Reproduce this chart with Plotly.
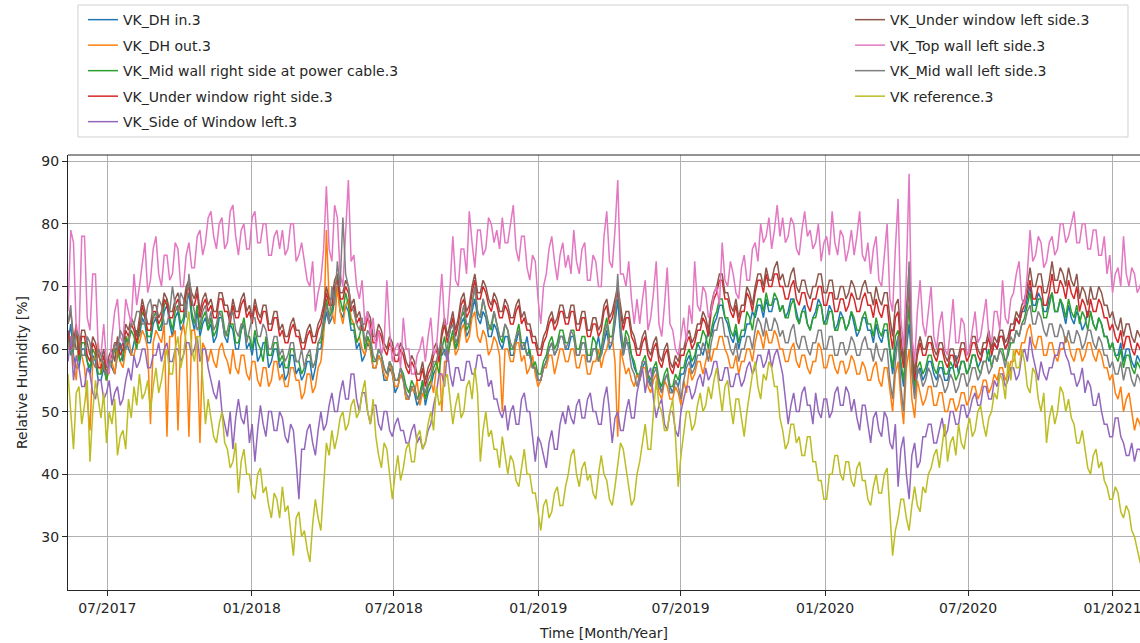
import pandas as pd
import plotly.graph_objects as go

FONT = "DejaVu Sans, sans-serif"

# readings every 3.5 days, first sample 2017-05-12
START = "2017-05-12"
STEP = "84h"

dh_in = [
    61, 64, 59, 57, 57, 60, 60, 58, 56, 59, 58, 55, 55, 57, 55, 58, 57, 56, 59, 61, 58, 62, 60, 59, 61, 63,
    62, 65, 64, 61, 61, 64, 65, 63, 63, 66, 67, 64, 62, 65, 66, 63, 64, 67, 69, 65, 63, 66, 62, 64, 65, 63,
    64, 61, 62, 65, 65, 62, 61, 64, 63, 60, 60, 63, 64, 60, 61, 59, 62, 58, 59, 61, 61, 57, 58, 60, 60, 57,
    58, 55, 56, 59, 59, 56, 57, 55, 56, 58, 58, 55, 57, 60, 60, 63, 66, 64, 65, 68, 70, 66, 65, 67, 66, 63,
    63, 60, 61, 58, 59, 61, 60, 57, 57, 59, 58, 55, 55, 57, 56, 53, 54, 56, 55, 52, 52, 54, 53, 51, 52, 55,
    51, 53, 54, 56, 57, 59, 59, 60, 58, 61, 62, 60, 61, 64, 65, 62, 63, 66, 68, 65, 64, 66, 65, 62, 62, 64,
    63, 61, 60, 62, 62, 59, 59, 61, 63, 60, 60, 62, 59, 57, 57, 55, 55, 57, 58, 60, 61, 59, 60, 62, 62, 60,
    60, 62, 62, 59, 59, 61, 61, 58, 58, 60, 60, 62, 59, 61, 63, 60, 61, 64, 68, 62, 59, 61, 61, 59, 57, 56,
    55, 57, 58, 56, 54, 57, 57, 55, 53, 55, 56, 54, 53, 55, 54, 56, 56, 58, 59, 57, 58, 61, 60, 59, 61, 63,
    62, 64, 65, 67, 67, 65, 64, 62, 61, 63, 60, 62, 62, 64, 64, 66, 65, 67, 67, 65, 68, 66, 66, 68, 68, 66,
    67, 65, 66, 68, 68, 66, 64, 66, 67, 64, 63, 65, 66, 68, 67, 64, 65, 67, 66, 63, 64, 66, 65, 63, 64, 66,
    64, 62, 63, 65, 65, 63, 63, 61, 64, 62, 61, 63, 63, 59, 56, 60, 62, 57, 54, 60, 64, 58, 53, 56, 57, 55,
    56, 58, 58, 56, 55, 57, 57, 55, 55, 57, 57, 59, 56, 58, 58, 56, 57, 59, 59, 57, 58, 60, 60, 58, 59, 61,
    60, 62, 62, 60, 61, 63, 63, 65, 64, 66, 66, 68, 70, 67, 67, 69, 68, 66, 66, 68, 69, 66, 66, 68, 66, 64,
    67, 65, 64, 66, 65, 63, 64, 66, 66, 64, 63, 65, 64, 62, 62, 60, 61, 59, 59, 61, 58, 60, 60, 58, 57, 59, 58, 57,
]

dh_out = [
    60, 62, 58, 55, 62, 59, 57, 52, 47, 58, 59, 61, 56, 58, 55, 57, 58, 56, 60, 58, 57, 60, 62, 59, 59, 61,
    61, 63, 62, 60, 48, 61, 63, 62, 61, 64, 46, 62, 62, 63, 47, 62, 64, 61, 46, 63, 63, 60, 45, 61, 60, 58,
    60, 58, 57, 60, 61, 59, 58, 56, 60, 57, 56, 59, 59, 56, 55, 58, 58, 55, 54, 57, 57, 54, 55, 58, 58, 55,
    56, 54, 54, 57, 57, 55, 55, 52, 53, 56, 56, 53, 54, 57, 58, 62, 79, 68, 66, 64, 70, 66, 64, 67, 68, 65,
    64, 61, 62, 60, 59, 62, 60, 57, 57, 59, 58, 56, 55, 58, 56, 54, 54, 56, 55, 52, 52, 54, 53, 55, 51, 53,
    52, 54, 55, 53, 57, 59, 50, 58, 58, 61, 62, 59, 60, 63, 64, 61, 62, 65, 66, 62, 61, 63, 62, 59, 60, 62,
    61, 59, 50, 60, 60, 58, 58, 61, 61, 58, 59, 56, 57, 59, 56, 54, 55, 57, 57, 59, 59, 56, 58, 60, 60, 58,
    58, 60, 60, 57, 57, 59, 59, 56, 56, 58, 58, 60, 57, 59, 60, 62, 62, 58, 46, 60, 58, 56, 57, 55, 54, 56,
    55, 57, 57, 54, 53, 55, 56, 53, 52, 55, 54, 52, 52, 54, 53, 51, 55, 53, 57, 55, 56, 58, 58, 56, 58, 60,
    58, 60, 60, 62, 62, 60, 59, 57, 57, 59, 56, 58, 58, 60, 60, 58, 61, 63, 62, 60, 63, 61, 61, 63, 62, 60,
    60, 58, 58, 60, 61, 58, 57, 59, 59, 57, 56, 58, 58, 61, 60, 57, 57, 59, 59, 57, 56, 58, 58, 56, 57, 59,
    58, 56, 56, 58, 57, 55, 55, 57, 58, 55, 54, 57, 57, 53, 50, 56, 58, 52, 48, 57, 60, 52, 49, 55, 53, 51,
    52, 54, 54, 51, 51, 53, 53, 50, 50, 52, 52, 50, 51, 53, 53, 51, 52, 54, 54, 52, 53, 55, 55, 53, 54, 56,
    55, 57, 57, 55, 56, 58, 58, 60, 59, 61, 61, 63, 64, 61, 60, 62, 62, 59, 59, 61, 61, 59, 58, 60, 60, 62,
    61, 59, 58, 60, 60, 58, 59, 61, 61, 59, 58, 60, 59, 57, 57, 55, 56, 53, 52, 54, 50, 52, 53, 50, 47, 49, 48, 46,
]

mid_right = [
    62, 59, 60, 63, 58, 61, 61, 58, 57, 60, 59, 56, 56, 58, 55, 57, 58, 60, 60, 58, 59, 62, 61, 63, 62, 60,
    63, 66, 65, 62, 62, 65, 66, 63, 64, 67, 68, 65, 63, 66, 67, 64, 65, 69, 71, 66, 64, 67, 63, 65, 66, 63,
    65, 62, 63, 66, 66, 63, 62, 64, 64, 61, 61, 63, 65, 62, 62, 60, 63, 61, 60, 58, 62, 59, 59, 61, 61, 58,
    59, 57, 57, 60, 60, 58, 58, 56, 57, 59, 59, 57, 58, 61, 61, 64, 68, 65, 66, 69, 72, 68, 66, 69, 67, 64,
    64, 61, 62, 64, 60, 62, 61, 58, 58, 60, 59, 57, 56, 58, 57, 55, 55, 57, 56, 54, 53, 55, 54, 52, 53, 55,
    52, 54, 55, 57, 58, 56, 60, 62, 59, 61, 63, 60, 62, 65, 66, 63, 64, 67, 70, 66, 65, 68, 66, 64, 63, 66,
    64, 62, 61, 64, 63, 60, 60, 62, 64, 61, 61, 59, 60, 57, 58, 56, 56, 58, 59, 61, 62, 60, 61, 63, 63, 61,
    61, 63, 63, 60, 60, 62, 62, 59, 59, 62, 61, 58, 60, 63, 65, 62, 62, 66, 70, 64, 60, 63, 62, 59, 58, 56,
    56, 58, 59, 56, 55, 57, 58, 55, 54, 56, 57, 54, 54, 56, 55, 57, 57, 59, 60, 58, 59, 61, 61, 63, 62, 60,
    63, 65, 66, 68, 68, 65, 65, 63, 62, 64, 61, 63, 63, 66, 65, 63, 66, 68, 68, 66, 69, 67, 67, 69, 68, 66,
    67, 65, 65, 67, 68, 65, 64, 66, 66, 64, 63, 65, 65, 67, 67, 64, 64, 66, 66, 63, 63, 65, 65, 63, 64, 66,
    65, 63, 63, 65, 66, 64, 64, 62, 65, 63, 62, 64, 64, 60, 57, 62, 63, 58, 55, 61, 67, 58, 54, 57, 58, 56,
    57, 59, 59, 57, 56, 58, 58, 56, 56, 58, 57, 55, 56, 58, 58, 56, 57, 59, 59, 57, 56, 58, 58, 60, 57, 59,
    58, 60, 60, 58, 59, 61, 61, 63, 62, 64, 65, 67, 69, 66, 66, 68, 68, 65, 65, 67, 69, 66, 66, 68, 67, 65,
    68, 66, 65, 67, 64, 66, 65, 63, 66, 64, 63, 65, 64, 62, 62, 60, 61, 59, 58, 60, 57, 59, 59, 57, 56, 58, 57, 56,
]

under_right = [
    63, 60, 61, 64, 59, 62, 62, 59, 58, 61, 60, 57, 57, 59, 56, 58, 59, 61, 61, 59, 60, 63, 62, 64, 63, 61,
    64, 67, 65, 63, 63, 66, 66, 64, 65, 68, 67, 65, 65, 67, 68, 66, 66, 69, 70, 67, 67, 69, 65, 67, 68, 66,
    67, 65, 65, 68, 68, 66, 66, 64, 67, 65, 65, 67, 68, 65, 66, 64, 67, 65, 64, 66, 66, 63, 63, 65, 65, 62,
    63, 61, 61, 63, 64, 62, 62, 60, 60, 62, 63, 61, 61, 63, 64, 66, 69, 67, 67, 70, 71, 68, 68, 70, 69, 66,
    67, 64, 65, 63, 63, 65, 64, 61, 61, 63, 62, 60, 59, 61, 60, 58, 58, 60, 59, 57, 56, 58, 57, 55, 55, 57,
    54, 56, 57, 59, 60, 58, 62, 64, 61, 63, 65, 62, 64, 67, 68, 65, 66, 69, 71, 68, 68, 70, 69, 67, 66, 68,
    67, 65, 65, 67, 66, 64, 64, 66, 67, 64, 65, 63, 63, 61, 61, 59, 59, 61, 62, 64, 65, 63, 64, 66, 66, 64,
    64, 66, 66, 63, 63, 65, 65, 62, 62, 64, 64, 62, 63, 66, 67, 64, 65, 67, 69, 66, 63, 65, 65, 62, 61, 59,
    59, 61, 62, 59, 58, 60, 61, 58, 57, 59, 60, 57, 56, 58, 57, 59, 59, 61, 62, 60, 61, 63, 63, 65, 64, 62,
    66, 68, 69, 71, 71, 68, 68, 66, 65, 67, 64, 66, 66, 69, 68, 66, 69, 71, 71, 69, 72, 70, 70, 72, 72, 70,
    70, 68, 68, 70, 71, 68, 67, 69, 69, 67, 66, 68, 68, 70, 70, 67, 67, 69, 69, 66, 66, 68, 68, 66, 67, 69,
    68, 66, 66, 68, 69, 67, 67, 65, 68, 66, 65, 67, 67, 63, 60, 65, 66, 60, 57, 64, 70, 60, 55, 59, 61, 59,
    59, 61, 61, 59, 58, 60, 60, 58, 57, 59, 59, 57, 58, 60, 60, 58, 59, 61, 61, 59, 58, 60, 60, 62, 59, 61,
    60, 62, 62, 60, 61, 63, 63, 65, 64, 66, 67, 69, 71, 68, 68, 70, 70, 67, 67, 69, 72, 69, 69, 71, 70, 68,
    71, 69, 68, 70, 66, 68, 67, 65, 68, 66, 66, 68, 67, 65, 65, 63, 64, 62, 61, 63, 60, 62, 62, 60, 59, 61, 60, 59,
]

side_window = [
    58, 62, 55, 59, 57, 54, 54, 57, 56, 53, 52, 55, 55, 52, 53, 55, 51, 53, 54, 51, 52, 55, 57, 55, 59, 57,
    58, 60, 60, 57, 57, 59, 59, 61, 58, 60, 61, 58, 58, 60, 60, 58, 59, 61, 61, 59, 60, 62, 58, 60, 60, 57,
    55, 53, 52, 55, 50, 48, 46, 50, 44, 49, 52, 49, 48, 51, 45, 48, 42, 47, 51, 48, 46, 50, 50, 47, 47, 50,
    49, 46, 45, 48, 47, 42, 36, 44, 44, 47, 48, 45, 43, 47, 50, 47, 48, 51, 53, 50, 50, 53, 55, 52, 52, 56,
    56, 52, 50, 53, 53, 50, 48, 51, 51, 48, 47, 50, 50, 47, 46, 48, 49, 47, 47, 45, 45, 47, 48, 45, 46, 44,
    45, 47, 48, 51, 53, 56, 56, 54, 60, 56, 54, 57, 57, 55, 55, 58, 58, 56, 56, 59, 59, 57, 57, 54, 55, 52,
    52, 50, 49, 51, 47, 50, 51, 48, 48, 52, 53, 50, 50, 46, 42, 46, 45, 43, 41, 45, 47, 44, 44, 48, 50, 48,
    51, 49, 48, 51, 52, 49, 49, 52, 53, 50, 50, 48, 48, 52, 54, 50, 45, 49, 50, 47, 47, 50, 52, 49, 49, 53,
    55, 57, 53, 56, 57, 52, 49, 51, 52, 48, 47, 50, 50, 47, 46, 50, 52, 54, 54, 52, 53, 55, 56, 54, 57, 55,
    56, 58, 58, 55, 55, 57, 57, 54, 54, 56, 56, 54, 55, 57, 58, 56, 57, 59, 59, 57, 58, 60, 57, 59, 60, 58,
    56, 52, 48, 51, 53, 50, 50, 53, 54, 51, 51, 48, 53, 50, 49, 52, 52, 49, 50, 53, 54, 51, 51, 54, 53, 50,
    52, 49, 47, 51, 51, 48, 45, 49, 50, 47, 46, 50, 49, 45, 44, 48, 38, 44, 46, 40, 36, 43, 45, 41, 42, 46,
    46, 48, 48, 45, 45, 47, 49, 46, 47, 50, 50, 48, 48, 51, 51, 49, 50, 52, 53, 51, 51, 54, 54, 52, 52, 55,
    54, 56, 56, 54, 55, 57, 57, 55, 56, 59, 60, 58, 62, 59, 57, 55, 58, 56, 55, 57, 57, 59, 59, 61, 61, 59,
    58, 56, 56, 54, 55, 57, 53, 55, 54, 51, 51, 53, 50, 48, 48, 46, 46, 49, 49, 46, 45, 43, 43, 45, 42, 44, 44, 42,
]

under_left = [
    64, 66, 62, 60, 60, 63, 63, 61, 59, 62, 61, 59, 58, 60, 57, 59, 60, 58, 62, 60, 61, 64, 63, 65, 64, 62,
    65, 68, 66, 64, 64, 67, 67, 65, 66, 69, 68, 66, 66, 68, 69, 67, 67, 70, 71, 69, 68, 70, 66, 68, 69, 67,
    68, 66, 66, 69, 69, 67, 67, 65, 68, 66, 66, 68, 69, 66, 67, 65, 68, 66, 65, 67, 67, 64, 64, 66, 66, 63,
    64, 62, 62, 64, 65, 63, 63, 61, 61, 63, 64, 62, 62, 64, 65, 67, 70, 68, 68, 71, 72, 69, 69, 71, 70, 67,
    68, 65, 66, 64, 64, 66, 65, 62, 62, 64, 63, 61, 60, 62, 61, 59, 59, 61, 60, 58, 57, 59, 58, 56, 56, 58,
    55, 57, 58, 60, 61, 59, 63, 65, 62, 64, 66, 63, 65, 68, 69, 66, 67, 70, 72, 69, 69, 71, 70, 68, 67, 69,
    68, 66, 66, 68, 67, 65, 65, 67, 68, 65, 66, 64, 64, 62, 62, 60, 60, 62, 63, 65, 66, 64, 65, 67, 67, 65,
    65, 67, 67, 64, 64, 66, 66, 63, 63, 65, 65, 63, 64, 67, 68, 65, 66, 68, 70, 67, 64, 66, 66, 63, 62, 60,
    60, 62, 63, 60, 59, 61, 62, 59, 58, 60, 61, 58, 57, 59, 58, 60, 60, 62, 63, 61, 62, 64, 64, 66, 65, 63,
    67, 69, 70, 72, 72, 69, 69, 67, 66, 68, 65, 67, 67, 70, 69, 67, 70, 72, 72, 70, 73, 71, 71, 73, 74, 71,
    72, 70, 70, 72, 73, 70, 69, 71, 71, 69, 68, 70, 70, 72, 72, 69, 69, 71, 71, 68, 68, 70, 70, 68, 69, 71,
    70, 68, 68, 70, 71, 69, 69, 67, 70, 68, 67, 69, 69, 65, 62, 67, 68, 62, 58, 66, 73, 62, 56, 60, 62, 60,
    60, 62, 62, 60, 59, 61, 61, 59, 58, 60, 60, 58, 59, 61, 61, 59, 60, 62, 62, 60, 59, 61, 61, 63, 60, 62,
    61, 63, 63, 61, 62, 64, 64, 66, 65, 67, 68, 70, 73, 70, 70, 72, 72, 69, 69, 71, 74, 71, 71, 73, 72, 70,
    73, 71, 70, 72, 68, 70, 69, 67, 70, 68, 68, 70, 69, 67, 67, 65, 66, 64, 63, 65, 62, 64, 64, 62, 61, 63, 62, 61,
]

top_left = [
    66, 79, 77, 63, 62, 78, 78, 65, 63, 72, 72, 60, 59, 64, 58, 56, 62, 66, 68, 62, 61, 68, 66, 64, 72, 67,
    70, 74, 77, 69, 71, 76, 78, 72, 70, 75, 75, 71, 72, 77, 76, 70, 70, 75, 77, 73, 73, 78, 79, 75, 77, 81,
    82, 78, 76, 80, 81, 76, 77, 82, 83, 78, 75, 79, 80, 76, 76, 81, 82, 77, 77, 80, 80, 75, 75, 78, 79, 76,
    79, 75, 76, 80, 80, 74, 75, 77, 74, 71, 70, 74, 66, 69, 71, 76, 86, 76, 74, 83, 81, 72, 70, 78, 87, 74,
    75, 70, 68, 71, 64, 66, 62, 65, 60, 63, 59, 61, 71, 63, 58, 60, 61, 57, 65, 60, 60, 56, 56, 59, 60, 62,
    58, 62, 65, 59, 60, 66, 72, 64, 64, 70, 78, 71, 70, 76, 76, 72, 82, 77, 73, 79, 79, 75, 76, 81, 80, 77,
    79, 76, 81, 77, 77, 80, 83, 76, 74, 78, 78, 73, 71, 75, 74, 68, 64, 70, 72, 76, 78, 74, 71, 75, 77, 73,
    75, 72, 79, 74, 72, 76, 77, 71, 71, 75, 74, 70, 70, 78, 82, 74, 73, 79, 87, 72, 72, 70, 74, 68, 64, 68,
    64, 68, 71, 63, 65, 69, 74, 64, 62, 67, 73, 64, 63, 60, 59, 62, 65, 61, 67, 64, 74, 67, 66, 70, 69, 65,
    66, 69, 70, 67, 77, 71, 70, 74, 72, 69, 68, 73, 75, 71, 71, 76, 77, 74, 80, 77, 78, 81, 76, 79, 83, 78,
    81, 77, 78, 81, 80, 76, 75, 79, 82, 78, 79, 76, 77, 80, 74, 77, 78, 75, 82, 77, 75, 79, 78, 74, 76, 79,
    75, 78, 82, 75, 74, 77, 72, 76, 78, 71, 70, 75, 80, 68, 66, 76, 84, 65, 60, 72, 88, 62, 58, 66, 71, 64,
    62, 66, 70, 62, 60, 64, 66, 60, 59, 63, 68, 61, 61, 65, 64, 59, 60, 63, 66, 61, 62, 65, 68, 62, 61, 66,
    66, 63, 71, 65, 64, 68, 69, 72, 74, 68, 67, 72, 79, 74, 75, 78, 77, 73, 74, 77, 78, 75, 76, 80, 80, 77,
    78, 80, 82, 77, 77, 80, 80, 76, 76, 79, 79, 75, 75, 78, 72, 75, 69, 72, 73, 70, 78, 72, 70, 73, 72, 69, 70, 72,
]

mid_left = [
    64, 67, 60, 63, 62, 59, 59, 62, 61, 58, 57, 60, 59, 57, 56, 58, 58, 61, 60, 63, 62, 60, 61, 64, 64, 66,
    66, 64, 64, 67, 68, 65, 65, 68, 67, 64, 64, 66, 70, 67, 66, 69, 68, 65, 72, 68, 66, 63, 64, 66, 67, 64,
    66, 63, 64, 66, 65, 62, 63, 65, 66, 63, 62, 64, 64, 61, 63, 65, 65, 62, 62, 64, 63, 60, 60, 62, 62, 59,
    60, 58, 59, 61, 61, 58, 58, 60, 57, 59, 60, 57, 58, 61, 62, 65, 67, 64, 70, 67, 74, 70, 81, 72, 70, 67,
    66, 64, 63, 65, 61, 63, 62, 59, 58, 60, 59, 57, 56, 58, 57, 55, 55, 57, 55, 53, 52, 54, 54, 52, 52, 54,
    53, 55, 56, 58, 58, 60, 61, 59, 60, 63, 64, 61, 62, 65, 67, 64, 64, 67, 70, 66, 65, 68, 66, 63, 64, 66,
    64, 62, 62, 64, 63, 61, 60, 62, 63, 60, 61, 59, 59, 57, 57, 55, 55, 57, 58, 60, 61, 59, 60, 62, 62, 60,
    61, 63, 62, 59, 59, 61, 61, 58, 58, 60, 60, 58, 59, 62, 64, 61, 61, 65, 72, 64, 59, 62, 60, 57, 56, 54,
    56, 58, 58, 55, 54, 56, 57, 54, 53, 55, 56, 53, 53, 55, 54, 52, 55, 57, 58, 56, 57, 59, 59, 61, 60, 58,
    61, 63, 63, 65, 65, 62, 62, 60, 59, 61, 58, 60, 60, 62, 62, 60, 63, 65, 64, 62, 65, 63, 63, 65, 64, 62,
    63, 61, 61, 63, 64, 61, 60, 62, 62, 60, 59, 61, 61, 63, 63, 60, 60, 62, 62, 59, 59, 61, 61, 59, 60, 62,
    61, 59, 59, 61, 62, 60, 60, 58, 61, 59, 58, 60, 60, 55, 52, 58, 62, 54, 50, 60, 74, 56, 52, 57, 56, 54,
    55, 57, 56, 54, 54, 56, 55, 53, 54, 56, 55, 53, 54, 56, 56, 54, 55, 57, 57, 55, 56, 58, 58, 56, 57, 59,
    58, 60, 59, 57, 60, 62, 61, 63, 62, 64, 64, 66, 67, 64, 64, 66, 65, 63, 62, 64, 64, 62, 62, 64, 63, 61,
    63, 61, 61, 63, 62, 60, 61, 63, 63, 61, 60, 62, 61, 59, 59, 57, 58, 56, 56, 58, 55, 57, 57, 55, 54, 56, 55, 53,
]

reference = [
    56, 50, 44, 53, 54, 48, 51, 55, 42, 50, 55, 52, 49, 53, 45, 50, 48, 52, 43, 46, 47, 44, 52, 49, 54, 51,
    56, 52, 53, 55, 50, 54, 57, 53, 55, 58, 60, 56, 56, 60, 62, 57, 59, 63, 66, 60, 58, 62, 62, 55, 48, 52,
    49, 46, 45, 48, 50, 45, 44, 41, 42, 45, 37, 42, 44, 40, 40, 37, 36, 40, 41, 37, 38, 35, 33, 37, 36, 33,
    38, 34, 35, 31, 27, 33, 34, 30, 31, 28, 26, 32, 36, 33, 31, 38, 45, 43, 47, 44, 46, 49, 50, 47, 48, 51,
    52, 49, 50, 53, 55, 50, 48, 52, 46, 43, 41, 45, 44, 40, 36, 40, 43, 39, 41, 44, 45, 42, 42, 46, 47, 44,
    45, 48, 50, 47, 54, 51, 52, 55, 56, 52, 48, 51, 53, 49, 50, 54, 55, 52, 57, 53, 42, 47, 50, 46, 47, 44,
    44, 41, 46, 43, 40, 43, 42, 39, 38, 41, 44, 40, 40, 37, 37, 34, 31, 35, 36, 33, 34, 37, 38, 35, 35, 38,
    40, 43, 44, 40, 38, 41, 42, 39, 40, 37, 36, 40, 43, 40, 39, 36, 35, 38, 42, 45, 44, 41, 38, 35, 36, 40,
    42, 45, 48, 44, 44, 50, 55, 51, 50, 47, 47, 50, 52, 46, 38, 43, 47, 50, 50, 47, 48, 51, 53, 50, 51, 54,
    52, 55, 57, 53, 50, 54, 55, 51, 48, 52, 52, 49, 46, 50, 53, 56, 58, 54, 52, 56, 55, 58, 57, 54, 54, 49,
    47, 44, 45, 48, 48, 45, 46, 43, 43, 46, 46, 42, 42, 39, 39, 36, 36, 40, 40, 43, 43, 40, 39, 42, 42, 39,
    38, 41, 42, 39, 39, 36, 35, 38, 40, 37, 37, 40, 41, 33, 27, 31, 33, 36, 36, 33, 31, 35, 38, 35, 34, 38,
    37, 40, 41, 43, 44, 41, 45, 48, 42, 45, 46, 43, 48, 45, 44, 47, 49, 46, 47, 50, 51, 48, 46, 49, 50, 53,
    52, 56, 55, 52, 58, 55, 60, 57, 57, 60, 58, 54, 53, 57, 56, 52, 50, 53, 45, 49, 51, 48, 50, 54, 53, 50,
    52, 49, 48, 45, 45, 47, 44, 41, 40, 43, 44, 41, 42, 39, 38, 36, 36, 38, 37, 34, 33, 35, 34, 31, 30, 28, 26, 25,
]

SERIES = [
    ("VK_DH in.3", dh_in, "#1f77b4", "legend"),
    ("VK_DH out.3", dh_out, "#ff7f0e", "legend"),
    ("VK_Mid wall right side at power cable.3", mid_right, "#2ca02c", "legend"),
    ("VK_Under window right side.3", under_right, "#d62728", "legend"),
    ("VK_Side of Window left.3", side_window, "#9467bd", "legend"),
    ("VK_Under window left side.3", under_left, "#8c564b", "legend2"),
    ("VK_Top wall left side.3", top_left, "#e377c2", "legend2"),
    ("VK_Mid wall left side.3", mid_left, "#7f7f7f", "legend2"),
    ("VK reference.3", reference, "#bcbd22", "legend2"),
]

fig = go.Figure()
for name, values, color, leg in SERIES:
    dates = pd.date_range(START, periods=len(values), freq=STEP)
    fig.add_trace(go.Scatter(
        x=dates, y=values, name=name, mode="lines",
        line=dict(color=color, width=1.5),
        legend=leg, legendgroup=name,
    ))

legend_common = dict(
    bgcolor="rgba(0,0,0,0)", borderwidth=0,
    font=dict(family=FONT, size=14, color="#262626"),
    tracegroupgap=4.3, yanchor="top", xanchor="left", y=1.347,
)

fig.update_layout(
    width=1140, height=643,
    margin=dict(l=68, r=0, t=155, b=53),
    paper_bgcolor="white", plot_bgcolor="white",
    font=dict(family=FONT, size=14, color="#262626"),
    legend=dict(x=0.014, **legend_common),
    legend2=dict(x=0.7295, **legend_common),
    showlegend=True,
    xaxis=dict(
        range=["2017-05-12", "2021-02-05"],
        tick0="2017-07-01", dtick="M6", tickformat="%m/%Y",
        showgrid=True, gridcolor="#b0b0b0", gridwidth=1,
        showline=True, linecolor="#262626", linewidth=1,
        ticks="outside", ticklen=5, tickcolor="#262626",
        ticklabeloverflow="allow",
        zeroline=False, automargin=False,
        title=dict(text="Time [Month/Year]", standoff=13,
                   font=dict(family=FONT, size=14, color="#262626")),
    ),
    yaxis=dict(
        range=[21.5, 91], dtick=10, tick0=30,
        showgrid=True, gridcolor="#b0b0b0", gridwidth=1,
        showline=True, linecolor="#262626", linewidth=1,
        ticks="outside", ticklen=5, tickcolor="#262626",
        zeroline=False, automargin=False,
        title=dict(text="Relative Humidity [%]", standoff=10,
                   font=dict(family=FONT, size=14, color="#262626")),
    ),
    shapes=[
        dict(type="line", xref="paper", yref="paper", x0=0, x1=1, y0=1, y1=1,
             line=dict(color="#262626", width=1)),
        dict(type="rect", xref="paper", yref="paper",
             x0=0.0093, x1=0.9888, y0=1.0414, y1=1.3448,
             line=dict(color="#d0d0d0", width=1)),
    ],
)

# drop the browser's default body margin so the figure fills the window
fig.write_html(
    "out.html",
    config={"displayModeBar": False},
    post_script="document.body.style.margin = '0';",
)
